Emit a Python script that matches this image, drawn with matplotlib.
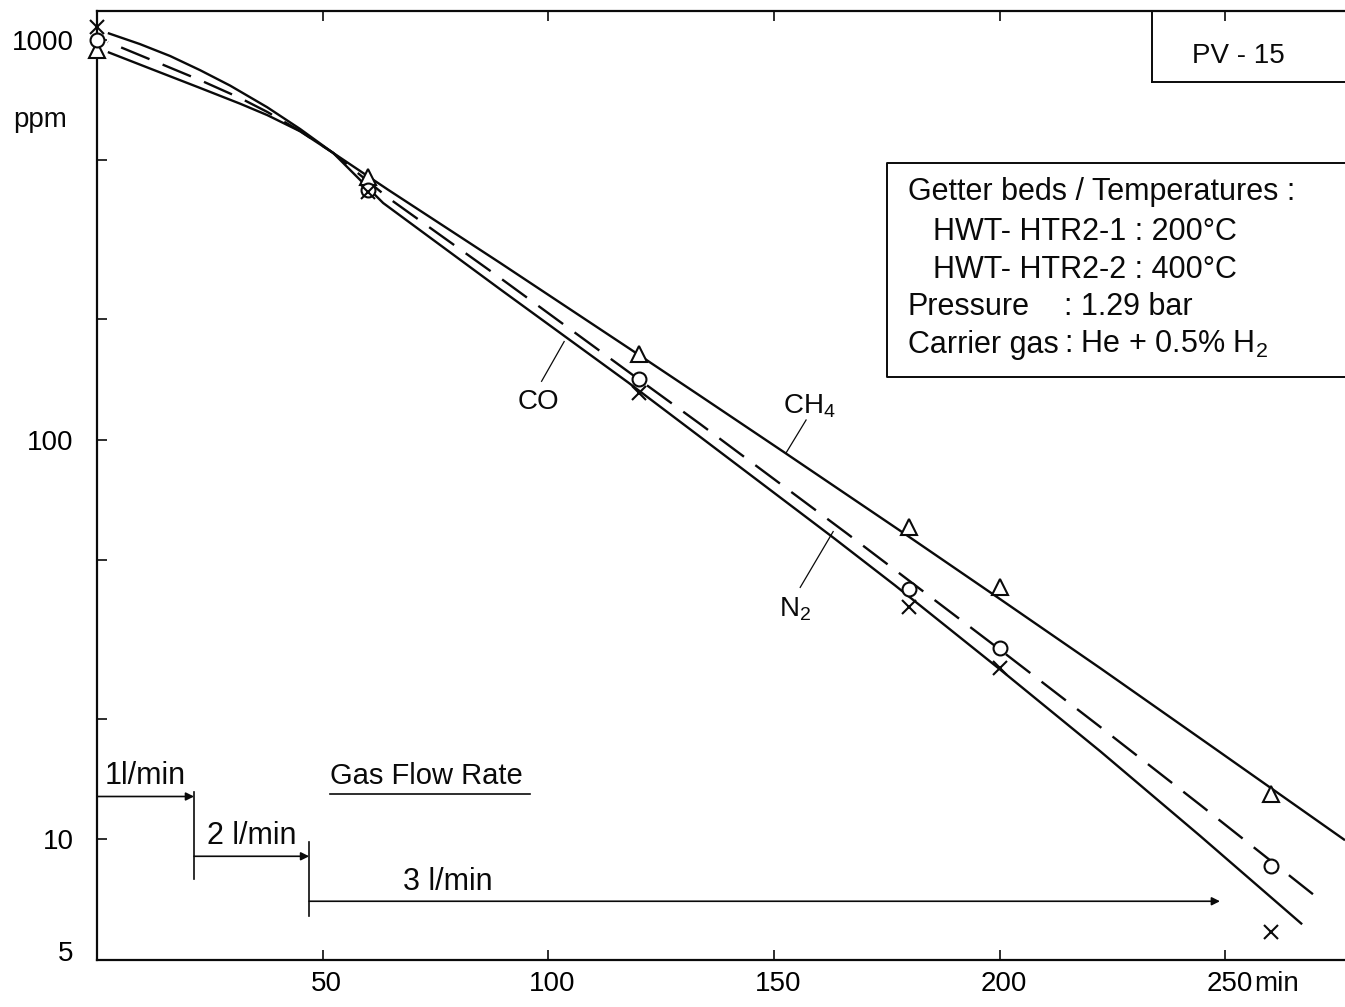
import numpy as np
import matplotlib
matplotlib.use("Agg")
import matplotlib.pyplot as plt
from matplotlib.ticker import FixedLocator, NullFormatter
from matplotlib.lines import Line2D
from matplotlib.transforms import ScaledTranslation

plt.rcParams["font.family"] = ["Liberation Sans", "DejaVu Sans"]
plt.rcParams["mathtext.fontset"] = "custom"
plt.rcParams["mathtext.rm"] = "Liberation Sans"
plt.rcParams["mathtext.it"] = "Liberation Sans:italic"

W, H = 1345, 1007
INK = "#0a0a0a"
FS = 20

# measured points (time in min, concentration in ppm)
t_meas = [0, 60, 120, 180, 200, 260]
ch4_meas = [944, 454, 164, 60.3, 42.9, 12.96]
co_meas = [1000, 422, 142, 42.2, 30.2, 8.56]
n2_meas = [1078, 417, 131, 38.2, 26.9, 5.85]

# fitted curves as drawn in the figure
ch4_t = [2.4, 11.7, 22.8, 31.7, 37.7, 45.0, 52.3, 64.5, 89.3, 118.1, 133.6,
         152.0, 178.6, 200.1, 222.3, 246.6, 276.5]
ch4_v = [933, 849, 759, 693, 649, 591, 522, 422, 277, 168.6, 128.8,
         93.4, 58.5, 39.9, 26.8, 17.2, 9.95]
co_t = [2.4, 11.7, 22.8, 31.7, 37.7, 45.0, 52.3, 64.5, 89.3, 119.9, 133.6,
        166.2, 200.1, 222.3, 244.4, 269.4]
co_v = [989, 895, 794, 716, 661, 592, 522, 403, 254, 141.9, 109.5,
        58.2, 29.8, 19.1, 12.2, 7.29]
n2_t = [2.4, 9.5, 16.2, 22.8, 29.5, 37.7, 45.0, 52.3, 63.4, 89.3, 117.7,
        133.6, 163.1, 176.8, 200.1, 222.3, 244.4, 267.0]
n2_v = [1041, 977, 912, 841, 769, 679, 599, 522, 391, 238, 139,
        101.7, 56.9, 43.2, 26.6, 16.6, 10.2, 6.13]

# gas flow rate steps
flow_t = [0, 21.5, 47]
flow_end = 248.8
flow_labels = ["1l/min", "2 l/min", "3 l/min"]
flow_level = [12.8, 9.07, 7.0]
flow_bar = [(13.1, 7.94), (9.83, 6.42)]

x_ticks = [50, 100, 150, 200, 250]
y_major = [5, 10, 100, 1000]
y_minor = [20, 50, 200, 500]


def fx(px):
    return px / W


def fy(py):
    return 1 - py / H


fig = plt.figure(figsize=(W / 100, H / 100), dpi=100, facecolor="white")
ax = fig.add_axes([fx(97), fy(960), fx(1345) - fx(97), fy(11) - fy(960)])
ax.set_yscale("log")
ax.set_xlim(0, 276.5)
ax.set_ylim(4.99, 1182)

for s in ["left", "bottom", "top"]:
    ax.spines[s].set_linewidth(1.6)
    ax.spines[s].set_color(INK)
ax.spines["right"].set_visible(False)

ax.xaxis.set_major_locator(FixedLocator(x_ticks))
ax.set_xticklabels([str(v) for v in x_ticks])
ax.tick_params(axis="x", which="both", direction="in", top=True, bottom=True,
               length=7, width=1.2, color=INK, labelsize=FS, pad=8)
shift = ScaledTranslation(4 / 100, 0, fig.dpi_scale_trans)
for lbl in ax.get_xticklabels():
    lbl.set_transform(lbl.get_transform() + shift)
ax.yaxis.set_major_locator(FixedLocator(y_major))
ax.yaxis.set_minor_locator(FixedLocator(y_minor))
ax.set_yticklabels([str(v) for v in y_major])
ax.yaxis.set_minor_formatter(NullFormatter())
ax.tick_params(axis="y", which="both", direction="in", left=True, right=False,
               length=7, width=1.2, color=INK, labelsize=FS, pad=17)
# the "5" sits a little above the bottom axis in the original
lbl5 = ax.get_yticklabels()[0]
lbl5.set_transform(lbl5.get_transform() + ScaledTranslation(0, 9 / 100, fig.dpi_scale_trans))

# fitted curves
LW = 1.7
ax.plot(ch4_t, ch4_v, color=INK, lw=LW, solid_capstyle="butt", zorder=2)
ax.plot(n2_t, n2_v, color=INK, lw=LW, solid_capstyle="butt", zorder=2)

# dashed CO curve: choose dash offset so that the line ends on a full dash
on, off = 13, 6
pts = ax.transData.transform(np.column_stack([co_t, co_v]))
length_pt = np.sum(np.hypot(*np.diff(pts, axis=0).T)) * 72 / fig.dpi
period = (on + off) * LW
offset = ((on * LW - length_pt) % period) / LW
ax.plot(co_t, co_v, color=INK, lw=LW, ls=(offset, (on, off)),
        dash_capstyle="butt", zorder=2)

# measured points
ax.plot(t_meas, ch4_meas, ls="none", marker="^", ms=12, mfc="white",
        mec=INK, mew=1.5, zorder=4, clip_on=False)
ax.plot(t_meas, co_meas, ls="none", marker="o", ms=10, mfc="white",
        mec=INK, mew=1.5, zorder=4, clip_on=False)
ax.plot(t_meas, n2_meas, ls="none", marker="x", ms=10,
        mec=INK, mew=1.5, zorder=5, clip_on=False)

# curve labels with leader lines
ax.plot([98.5, 103.5], [140, 176], color=INK, lw=0.9)
ax.text(97.8, 124, "CO", fontsize=FS, ha="center", va="center", color=INK)
ax.plot([152.7, 157.1], [92.8, 112], color=INK, lw=0.9)
ax.text(157.8, 121, "CH$_\\mathrm{4}$", fontsize=FS, ha="center", va="center", color=INK)
ax.plot([155.8, 163.1], [42.7, 58.9], color=INK, lw=0.9)
ax.text(154.7, 37.6, "N$_\\mathrm{2}$", fontsize=FS, ha="center", va="center", color=INK)

# gas flow rate arrows
ends = flow_t[1:] + [flow_end]
for t0, t1, lv in zip(flow_t, ends, flow_level):
    ax.annotate("", xy=(t1, lv), xytext=(t0, lv),
                arrowprops=dict(arrowstyle="-|>", color=INK, lw=1.2,
                                mutation_scale=12, shrinkA=0, shrinkB=0))
for t0, (hi, lo) in zip(flow_t[1:], flow_bar):
    ax.plot([t0, t0], [hi, lo], color=INK, lw=1.2)

FS3 = 22
fig.text(fx(105), fy(784), flow_labels[0], fontsize=FS3, va="baseline", color=INK)
fig.text(fx(207), fy(844), flow_labels[1], fontsize=FS3, va="baseline", color=INK)
fig.text(fx(403), fy(890), flow_labels[2], fontsize=FS3, va="baseline", color=INK)
fig.text(fx(330), fy(784), "Gas Flow Rate", fontsize=21, va="baseline", color=INK)
fig.add_artist(Line2D([fx(330), fx(530)], [fy(794), fy(794)], color=INK, lw=1.2))

# axis extras
fig.text(fx(13), fy(127), "ppm", fontsize=FS, va="baseline", color=INK)
ax.annotate("min", xy=(250, 0), xycoords=("data", "axes fraction"),
            xytext=(21, -8), textcoords="offset points", ha="left", va="top",
            fontsize=FS, color=INK)

# PV-15 box
fig.add_artist(Line2D([fx(1152), fx(1152)], [fy(11), fy(82)], color=INK, lw=1.4))
fig.add_artist(Line2D([fx(1152), fx(1345)], [fy(82), fy(82)], color=INK, lw=1.4))
fig.text(fx(1192), fy(63), "PV - 15", fontsize=FS, va="baseline", color=INK)

# conditions box
fig.add_artist(Line2D([fx(1345), fx(887), fx(887), fx(1345)],
                      [fy(163), fy(163), fy(377), fy(377)], color=INK, lw=1.4))
FS2 = 22
fig.text(fx(908), fy(200), "Getter beds / Temperatures :", fontsize=FS2, va="baseline", color=INK)
fig.text(fx(933), fy(240), "HWT- HTR2-1 : 200\u00b0C", fontsize=FS2, va="baseline", color=INK)
fig.text(fx(933), fy(278), "HWT- HTR2-2 : 400\u00b0C", fontsize=FS2, va="baseline", color=INK)
fig.text(fx(908), fy(315), "Pressure", fontsize=FS2, va="baseline", color=INK)
fig.text(fx(1064), fy(315), ": 1.29 bar", fontsize=FS2, va="baseline", color=INK)
fig.text(fx(908), fy(353), "Carrier gas", fontsize=FS2, va="baseline", color=INK)
fig.text(fx(1064), fy(353), ": He + 0.5% H$_\\mathrm{2}$", fontsize=FS2, va="baseline", color=INK)

plt.savefig("out.png", dpi=100, facecolor="white")
plt.close()
